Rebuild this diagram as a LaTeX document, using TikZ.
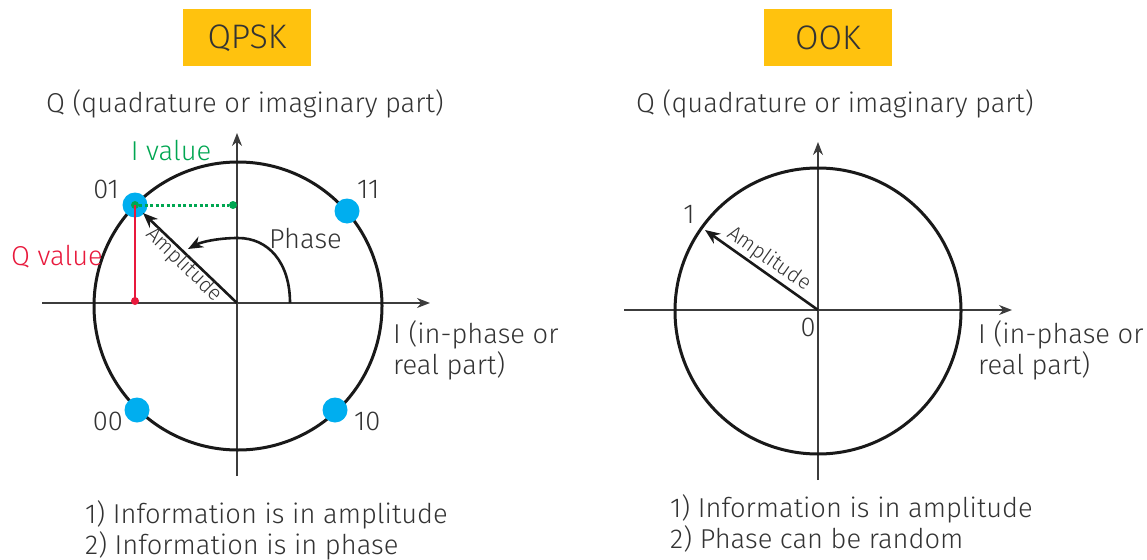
\documentclass[tikz,border=0pt]{standalone}
\usepackage{fontspec}
\setmainfont{Fira Sans Light}
\usetikzlibrary{arrows.meta}
\definecolor{kyellow}{HTML}{FFC20E}
\definecolor{kcyan}{HTML}{00AEEF}
\definecolor{kgreen}{HTML}{00A651}
\definecolor{kred}{HTML}{E8193C}
\definecolor{ktext}{HTML}{333333}
\definecolor{kaxis}{HTML}{3C3C3C}
\tikzset{
  titlebox/.style={fill=kyellow, minimum width=128pt, minimum height=57pt, inner sep=0pt, text=ktext, font=\fontsize{34}{40}\selectfont},
  lbl/.style={text=ktext, inner sep=0pt, font=\fontsize{27.3}{31}\selectfont},
  small/.style={text=ktext, inner sep=0pt, font=\fontsize{21}{25}\selectfont},
  axisline/.style={draw=kaxis, line width=1.3pt, -{Stealth[length=13pt,width=10pt]}},
  circ/.style={draw=black!90, line width=3pt},
  amp/.style={draw=black!90, line width=2.6pt, -{Stealth[length=15pt,width=12pt]}},
  qdot/.style={circle, fill=kcyan, minimum size=25pt, inner sep=0pt},
  gdot/.style={circle, fill=kgreen, minimum size=8pt, inner sep=0pt},
  rdot/.style={circle, fill=kred, minimum size=8pt, inner sep=0pt},
}
\begin{document}
\begin{tikzpicture}[x=1pt,y=-1pt]
\useasboundingbox (0,0) rectangle (1147,559);
% ---------------- QPSK ----------------
\node[titlebox] (tq) at (247,38) {QPSK};
\node[lbl, anchor=base west] (qlabA) at (46,113) {Q (quadrature or imaginary part)};
\coordinate (hA1) at (42,303);
\coordinate (hA2) at (430,303);
\coordinate (vA1) at (237,476);
\coordinate (vA2) at (237,133);
\coordinate (oA) at (237,303);
\draw[axisline] (hA1) -- (hA2);
\draw[axisline] (vA1) -- (vA2);
\node (cA) at (238,306) {};
\draw[circ] (cA.center) circle[radius=144];
% phase arc
\coordinate (phS) at (290,303);
\coordinate (phT) at (238,238);
\coordinate (phE) at (188,249);
\draw[amp] (phS) .. controls (290,262) and (268,238) .. (phT) .. controls (218,238) and (201,242) .. (phE);
\node[lbl, anchor=base west] (phase) at (269,248) {Phase};
% constellation points
\node[qdot] (d01) at (135,205) {};
\node[qdot] (d11) at (347,211) {};
\node[qdot] (d00) at (137,410) {};
\node[qdot] (d10) at (335,410) {};
\node[lbl, anchor=base east] (l01) at (119,198) {01};
\node[lbl, anchor=base west] (l11) at (357,198) {11};
\node[lbl, anchor=base east] (l00) at (123,430) {00};
\node[lbl, anchor=base west] (l10) at (354,430) {10};
% I value / Q value
\node[gdot] (g1) at (135,205) {};
\node[gdot] (g2) at (233,205) {};
\draw[kgreen, line width=3pt, dash pattern=on 3pt off 2.5pt] (g1) -- (g2);
\node[rdot] (r1) at (135,301) {};
\draw[kred, line width=1.2pt] (g1.center) -- (r1.center);
\node[lbl, text=kgreen, anchor=base] (ival) at (171,160) {I value};
\node[lbl, text=kred, anchor=base west] (qval) at (11,265) {Q value};
% amplitude
\coordinate (aA) at (143,213);
\draw[amp] (oA) -- (aA);
\node[small, rotate=-44] (ampA) at (184,265) {Amplitude};
\node[lbl, anchor=base west] (iA1) at (393,343) {I (in-phase or};
\node[lbl, anchor=base west] (iA2) at (393,374) {real part)};
\node[lbl, anchor=base west] (bA1) at (85,523) {1) Information is in amplitude};
\node[lbl, anchor=base west] (bA2) at (85,554) {2) Information is in phase};
% ---------------- OOK ----------------
\node[titlebox] (to) at (828,38) {OOK};
\node[lbl, anchor=base west] (qlabB) at (636,113) {Q (quadrature or imaginary part)};
\coordinate (hB1) at (624,310);
\coordinate (hB2) at (1012,310);
\coordinate (vB1) at (818,480);
\coordinate (vB2) at (818,142);
\coordinate (oB) at (818,310);
\draw[axisline] (hB1) -- (hB2);
\draw[axisline] (vB1) -- (vB2);
\node (cB) at (818,311) {};
\draw[circ] (cB.center) circle[radius=143];
\coordinate (aB) at (705,230);
\draw[amp] (oB) -- (aB);
\node[small, rotate=-35] (ampB) at (769,259) {Amplitude};
\node[lbl] (one) at (689,214) {1};
\node[lbl] (zero) at (808,327) {0};
\node[lbl, anchor=base west] (iB1) at (978,343) {I (in-phase or};
\node[lbl, anchor=base west] (iB2) at (978,374) {real part)};
\node[lbl, anchor=base west] (bB1) at (670,517) {1) Information is in amplitude};
\node[lbl, anchor=base west] (bB2) at (670,548) {2) Phase can be random};
\end{tikzpicture}
\end{document}
